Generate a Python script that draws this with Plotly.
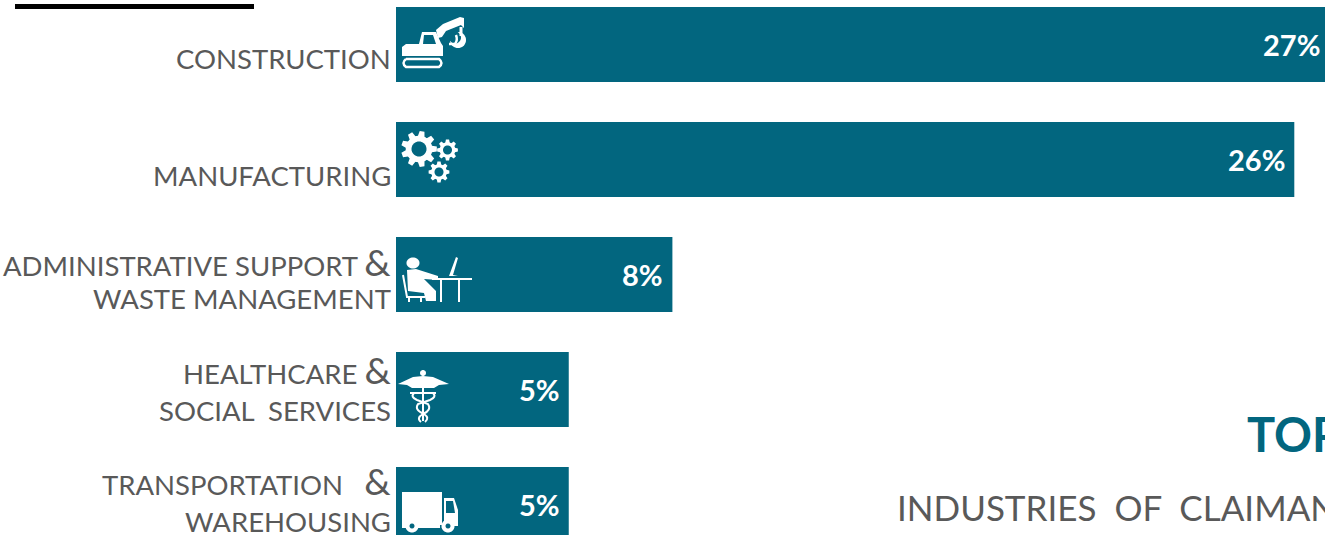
import math
import plotly.graph_objects as go

# ---- data ----
categories = ["Construction", "Manufacturing", "Administrative Support & Waste Management",
              "Healthcare & Social Services", "Transportation & Warehousing"]
values = [27, 26, 8, 5, 5]
value_labels = ["27%", "26%", "8%", "5%", "5%"]
label_lines = [["CONSTRUCTION"], ["MANUFACTURING"],
               ["ADMINISTRATIVE\u00a0SUPPORT\u00a0&", "WASTE\u00a0MANAGEMENT"],
               ["HEALTHCARE\u00a0&", "SOCIAL\u00a0\u00a0SERVICES"],
               ["TRANSPORTATION\u00a0\u00a0\u00a0&", "WAREHOUSING"]]
title_text = "TOP"
subtitle_text = "INDUSTRIES\u00a0\u00a0OF\u00a0\u00a0CLAIMANTS"

# ---- layout constants ----
# The figure is larger than the page: the page crops it, as the reference is cropped.
W, H = 1345, 555
BAR_X0 = 396
PX_PER_UNIT = 34.55
TEAL = "#02667F"
GRAY = "#595959"
line_shifts = [[-13.5], [-15.5], [13, -23.5], [20.5, -20.5], [24.5, -16.5]]


def seg(*cmds):
    out = []
    for c in cmds:
        out.append(c[0])
        pts = c[1:]
        out.append(" ".join(
            f"{pts[i] / W:.5f},{1 - pts[i + 1] / H:.5f}" for i in range(0, len(pts), 2)))
    return " ".join(out)


def poly(pts):
    return seg(("M", *pts[0]), *[("L", *p) for p in pts[1:]]) + " Z"


def circle(cx, cy, r, ry=None):
    ry = ry or r
    return poly([(cx + r * math.cos(a * math.pi / 18), cy + ry * math.sin(a * math.pi / 18)) for a in range(36)])


def gear(cx, cy, r, teeth):
    pts = []
    step = 2 * math.pi / teeth
    for t in range(teeth):
        a = t * step
        for da, rr in ((-0.30, 0.74), (-0.16, 1.0), (0.16, 1.0), (0.30, 0.74)):
            pts.append((cx + r * rr * math.cos(a + da * step * 1.2),
                        cy + r * rr * math.sin(a + da * step * 1.2)))
    return poly(pts)


shapes = []


def fill(path, color="white"):
    shapes.append(dict(type="path", xref="paper", yref="paper", path=path, fillcolor=color,
                       line=dict(width=0), layer="above"))


def stroke(path, width=2, color="white"):
    shapes.append(dict(type="path", xref="paper", yref="paper", path=path,
                       line=dict(width=width, color=color), layer="above"))


# top black rule
fill(poly([(15, 4), (254, 4), (254, 9), (15, 9)]), "black")

# excavator
fill(poly([(402, 56), (402, 47), (406, 44), (419, 44), (422, 32), (436, 32), (441, 43), (443, 46), (443, 56)]))
fill(poly([(424, 35), (433, 35), (436, 44), (423, 44)]), TEAL)
fill(poly([(436, 30), (443, 24), (460, 17), (464, 18), (464, 28), (461, 25), (446, 31), (442, 37), (438, 38)]))
fill(circle(458, 40, 8))
fill(circle(455, 37.5, 6), TEAL)
stroke(seg(("M", 461, 27), ("L", 461, 36)), 3)
stroke(seg(("M", 449, 44), ("L", 455, 44), ("Q", 458, 40, 456, 35)), 2.5)
stroke(seg(("M", 406, 59), ("L", 439, 59), ("Q", 444, 63, 439, 67), ("L", 406, 67), ("Q", 401, 63, 406, 59)), 2.5)

# gears
for cx, cy, r, n, hole in ((419, 149, 18, 9, 7.5), (447.5, 150, 10.5, 8, 4.5), (439, 172, 10.5, 8, 4.5)):
    fill(gear(cx, cy, r, n))
    fill(circle(cx, cy, r * 0.72), "white")
    fill(circle(cx, cy, hole), TEAL)

# person at desk
fill(circle(413, 263, 6.5, 5.5))
fill(poly([(407, 270), (416, 269), (438, 276), (438, 280), (424, 279), (436, 291), (436, 301), (426, 301), (424, 293), (408, 291)]))
stroke(seg(("M", 403, 275), ("L", 407, 297), ("L", 425, 297)), 2)
stroke(seg(("M", 409, 297), ("L", 409, 302)), 2)
stroke(seg(("M", 421, 297), ("L", 421, 302)), 2)
stroke(seg(("M", 432, 279), ("L", 472, 279)), 2)
stroke(seg(("M", 441, 279), ("L", 441, 302)), 2)
stroke(seg(("M", 459, 279), ("L", 459, 302)), 2)
fill(poly([(456, 257), (458, 258), (453, 275), (458, 276), (449, 276)]))

# caduceus
fill(circle(423, 373, 3))
fill(poly([(423, 376), (413, 377), (398, 384), (407, 385), (412, 388), (423, 388)]))
fill(poly([(423, 376), (433, 377), (449, 384), (439, 385), (434, 388), (423, 388)]))
stroke(seg(("M", 423, 377), ("L", 423, 421)), 2)
stroke(seg(("M", 410, 393), ("L", 433, 393), ("Q", 437, 397, 430, 400), ("L", 418, 404),
           ("Q", 414, 410, 424, 414), ("Q", 430, 418, 425, 422)), 2)
stroke(seg(("M", 436, 393), ("L", 414, 393), ("Q", 410, 397, 417, 400), ("L", 428, 404),
           ("Q", 432, 410, 423, 414), ("Q", 416, 418, 421, 422)), 2)

# truck
fill(poly([(402, 492), (442, 492), (442, 525), (402, 525)]))
fill(poly([(444, 498), (454, 498), (458, 510), (458, 526), (444, 526)]))
fill(poly([(446, 501), (453, 501), (455, 513), (446, 513)]), TEAL)
fill(poly([(402, 525), (440, 525), (440, 528), (402, 528)]))
for cx in (412, 448):
    fill(circle(cx, 526, 6.5), "white")
    fill(circle(cx, 526, 2.5), TEAL)

# ---- figure ----
fig = go.Figure(go.Bar(x=values, y=categories, orientation="h", marker=dict(color=TEAL, line=dict(width=0)),
                       width=75 / 115, hoverinfo="skip"))

annotations = []
for cat, val, lab in zip(categories, values, value_labels):
    annotations.append(dict(x=val, y=cat, xref="x", yref="y", xanchor="right", yanchor="middle", xshift=-7,
                            text=lab, showarrow=False,
                            font=dict(family="Lato", size=29, color="white", weight="bold")))
for cat, lines, shifts in zip(categories, label_lines, line_shifts):
    for ln, sh in zip(lines, shifts):
        txt = ln.replace("&", '<span style="font-size:37px">&amp;</span>')
        annotations.append(dict(x=0, y=cat, xref="x", yref="y", xanchor="right", yanchor="middle",
                                xshift=-3, yshift=sh, text=txt, showarrow=False,
                                font=dict(family="Lato", size=27.5, color=GRAY)))
annotations.append(dict(x=1245 / W, y=1 - 434 / H, xref="paper", yref="paper", xanchor="left", yanchor="middle",
                        text=title_text, showarrow=False,
                        font=dict(family="Lato", size=47, color=TEAL, weight="bold")))
annotations.append(dict(x=895 / W, y=1 - 507 / H, xref="paper", yref="paper", xanchor="left", yanchor="middle",
                        text=subtitle_text, showarrow=False,
                        font=dict(family="Lato", size=35, color=GRAY)))

fig.update_layout(
    width=W, height=H, margin=dict(l=0, r=0, t=0, b=0), paper_bgcolor="white", plot_bgcolor="white",
    showlegend=False, annotations=annotations, shapes=shapes,
    xaxis=dict(visible=False, range=[-BAR_X0 / PX_PER_UNIT, (W - BAR_X0) / PX_PER_UNIT], fixedrange=True),
    yaxis=dict(visible=False, type="category", categoryorder="array", categoryarray=categories,
               range=[(H - 44.5) / 115, -44.5 / 115], fixedrange=True),
)
fig.write_html("out.html", config=dict(displayModeBar=False),
               post_script="document.body.style.margin='0';document.documentElement.style.overflow='hidden';document.body.style.overflow='hidden';")
